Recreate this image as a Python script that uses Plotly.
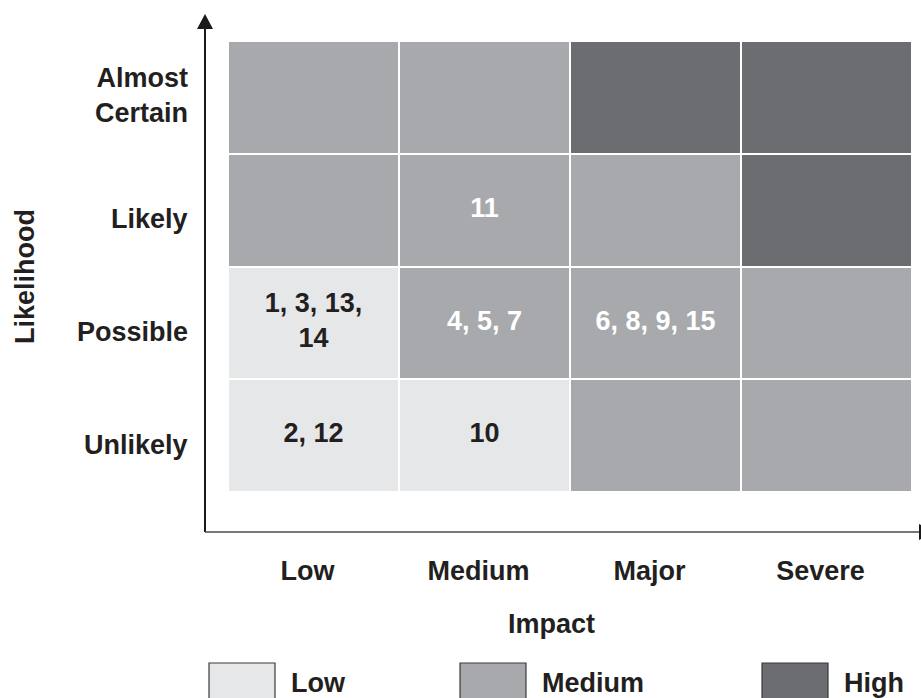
import plotly.graph_objects as go

# Risk matrix: impact (columns) against likelihood (rows, bottom to top)
impact = ["Low", "Medium", "Major", "Severe"]
likelihood = ["Unlikely", "Possible", "Likely", "Almost Certain"]
likelihood_ticktext = ["Unlikely", "Possible", "Likely", "Almost<br>Certain"]

# Risk rating of each cell, one row per likelihood level
rating = [
    ["Low", "Low", "Medium", "Medium"],        # Unlikely
    ["Low", "Medium", "Medium", "Medium"],     # Possible
    ["Medium", "Medium", "Medium", "High"],    # Likely
    ["Medium", "Medium", "High", "High"],      # Almost Certain
]

# Risk identifiers that fall in each cell
risk_ids = [
    ["2, 12", "10", "", ""],
    ["1, 3, 13,<br>14", "4, 5, 7", "6, 8, 9, 15", ""],
    ["", "11", "", ""],
    ["", "", "", ""],
]

levels = ["Low", "Medium", "High"]
level_colors = {"Low": "#e6e7e9", "Medium": "#a8a9ac", "High": "#6c6d71"}
text_on = {"Low": "#231f20", "Medium": "#ffffff", "High": "#ffffff"}

FONT = "Liberation Sans, Arial, Helvetica, sans-serif"
INK = "#231f20"
FS = 27

# Figure geometry (pixels)
W_FIG, H_FIG = 921, 698
L, R, T, B = 228, 9, 41, 206
PW, PH = W_FIG - L - R, H_FIG - T - B


def px(x):
    return (x - L) / PW


def py(y):
    return (H_FIG - B - y) / PH


def bold(size=FS, color=INK):
    return dict(family=FONT, size=size, color=color, weight="bold")


z = [[levels.index(v) for v in row] for row in rating]
colorscale = [[0.0, level_colors["Low"]], [0.5, level_colors["Medium"]],
              [1.0, level_colors["High"]]]

fig = go.Figure()
fig.add_trace(go.Heatmap(
    x=impact, y=likelihood, z=z, zmin=0, zmax=2,
    colorscale=colorscale, showscale=False,
    xgap=2, ygap=2, hoverinfo="skip",
))

# Cell labels
tx, ty, tt, tc = [], [], [], []
for i, lk in enumerate(likelihood):
    for j, im in enumerate(impact):
        if risk_ids[i][j]:
            tx.append(im)
            ty.append(lk)
            tt.append(risk_ids[i][j])
            tc.append(text_on[rating[i][j]])
fig.add_trace(go.Scatter(
    x=tx, y=ty, text=tt, mode="text",
    textfont=dict(family=FONT, size=FS, color=tc, weight="bold"),
    hoverinfo="skip", showlegend=False,
))

shapes = []
# Vertical axis with arrowhead
shapes.append(dict(type="line", xref="paper", yref="paper",
                   x0=px(205), x1=px(205), y0=py(532), y1=py(26),
                   line=dict(color="#1a1a1a", width=2)))
shapes.append(dict(type="path", xref="paper", yref="paper",
                   path=f"M {px(205)} {py(14)} L {px(197)} {py(29)} L {px(213)} {py(29)} Z",
                   fillcolor="#1a1a1a", line=dict(width=0)))
# Horizontal axis with arrowhead running off the right edge
shapes.append(dict(type="line", xref="paper", yref="paper",
                   x0=px(205), x1=px(925), y0=py(532), y1=py(532),
                   line=dict(color="#4a4a4a", width=1.5)))
shapes.append(dict(type="path", xref="paper", yref="paper",
                   path=f"M {px(934)} {py(532)} L {px(919)} {py(524)} L {px(919)} {py(540)} Z",
                   fillcolor="#1a1a1a", line=dict(width=0)))

annotations = []
# Likelihood labels, right-aligned against the vertical axis
for lk, txt in zip(likelihood, likelihood_ticktext):
    multiline = "<br>" in txt
    annotations.append(dict(xref="paper", yref="y", x=px(190), y=lk,
                            xanchor="right", yanchor="middle", align="right",
                            yshift=2 if multiline else -9,
                            text=txt, showarrow=False, font=bold()))

# Legend swatches
legend_box_x = [209, 460, 762]
for lvl, bx in zip(levels, legend_box_x):
    shapes.append(dict(type="rect", xref="paper", yref="paper",
                       x0=px(bx), x1=px(bx + 66), y0=py(663), y1=py(710),
                       fillcolor=level_colors[lvl],
                       line=dict(color="#3a3a3a", width=1.2)))
    annotations.append(dict(xref="paper", yref="paper", x=px(bx + 80), y=py(683),
                            xanchor="left", yanchor="middle", text=lvl,
                            showarrow=False, font=bold()))

# Axis titles
annotations.append(dict(xref="paper", yref="paper", x=px(551), y=py(624),
                        xanchor="center", yanchor="middle", text="Impact",
                        showarrow=False, font=bold()))
annotations.append(dict(xref="paper", yref="paper", x=px(25), y=py(277),
                        xanchor="center", yanchor="middle", text="Likelihood",
                        textangle=-90, showarrow=False, font=bold()))

fig.update_layout(
    width=W_FIG, height=H_FIG,
    margin=dict(l=L, r=R, t=T, b=B, pad=0),
    paper_bgcolor="white", plot_bgcolor="white",
    showlegend=False,
    shapes=shapes, annotations=annotations,
    font=bold(),
)
fig.update_xaxes(
    type="category", categoryorder="array", categoryarray=impact,
    range=[-0.5, 3.5], showgrid=False, zeroline=False, showline=False,
    ticks="", ticklabelstandoff=60, ticklabelshift=-6, fixedrange=True,
    tickfont=bold(),
)
fig.update_yaxes(
    type="category", categoryorder="array", categoryarray=likelihood,
    range=[-0.5, 3.5], showgrid=False, zeroline=False, showline=False,
    showticklabels=False, ticks="", fixedrange=True,
)

fig.write_html("out.html", config={"displayModeBar": False})
